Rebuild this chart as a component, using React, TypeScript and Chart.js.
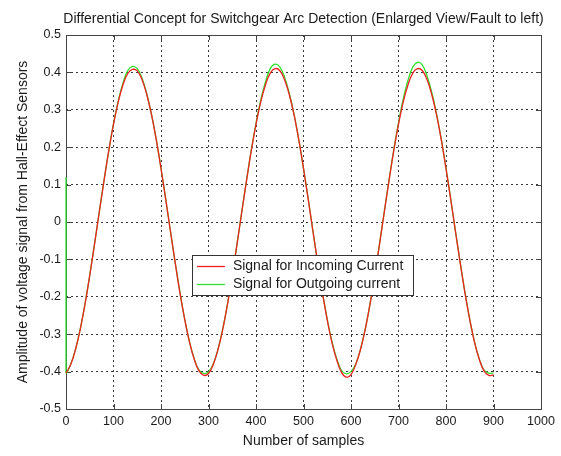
import React, { useEffect, useRef } from "react";
import { Chart, registerables } from "chart.js";

Chart.register(...registerables);

const TITLE = "Differential Concept for Switchgear Arc Detection (Enlarged View/Fault to left)";
const X_LABEL = "Number of samples";
const Y_LABEL = "Amplitude of voltage signal from Hall-Effect Sensors";
const SERIES_NAMES = ["Signal for Incoming Current", "Signal for Outgoing current"];
const SERIES_COLORS = ["#f02020", "#30e030"];

const X_TICKS = [0, 100, 200, 300, 400, 500, 600, 700, 800, 900, 1000];
const Y_TICKS = [-0.5, -0.4, -0.3, -0.2, -0.1, 0, 0.1, 0.2, 0.3, 0.4, 0.5];

const SAMPLES = [
  0, 10, 20, 30, 40, 50, 60, 70, 80, 90,
  100, 110, 120, 130, 140, 150, 160, 170, 180, 190,
  200, 210, 220, 230, 240, 250, 260, 270, 280, 290,
  300, 310, 320, 330, 340, 350, 360, 370, 380, 390,
  400, 410, 420, 430, 440, 450, 460, 470, 480, 490,
  500, 510, 520, 530, 540, 550, 560, 570, 580, 590,
  600, 610, 620, 630, 640, 650, 660, 670, 680, 690,
  700, 710, 720, 730, 740, 750, 760, 770, 780, 790,
  800, 810, 820, 830, 840, 850, 860, 870, 880, 890,
  900,
];

const INCOMING = [
  -0.404, -0.381, -0.341, -0.287, -0.22, -0.143, -0.06, 0.026, 0.11, 0.19,
  0.261, 0.321, 0.367, 0.397, 0.408, 0.404, 0.381, 0.341, 0.287, 0.22,
  0.143, 0.06, -0.026, -0.11, -0.19, -0.261, -0.321, -0.367, -0.398, -0.41,
  -0.405, -0.381, -0.341, -0.287, -0.22, -0.143, -0.06, 0.026, 0.11, 0.19,
  0.261, 0.321, 0.367, 0.398, 0.41, 0.405, 0.381, 0.341, 0.287, 0.22,
  0.143, 0.06, -0.026, -0.11, -0.19, -0.262, -0.323, -0.369, -0.402, -0.415,
  -0.408, -0.381, -0.341, -0.287, -0.22, -0.143, -0.06, 0.026, 0.11, 0.19,
  0.261, 0.321, 0.367, 0.398, 0.41, 0.405, 0.381, 0.341, 0.287, 0.22,
  0.143, 0.06, -0.026, -0.11, -0.19, -0.261, -0.321, -0.367, -0.398, -0.41,
  -0.409,
];

const OUTGOING_START = 0.12;

const OUTGOING = [
  -0.402, -0.38, -0.34, -0.286, -0.219, -0.142, -0.059, 0.027, 0.111, 0.191,
  0.263, 0.324, 0.372, 0.405, 0.416, 0.41, 0.385, 0.343, 0.288, 0.221,
  0.144, 0.061, -0.025, -0.109, -0.189, -0.26, -0.32, -0.366, -0.396, -0.405,
  -0.401, -0.38, -0.34, -0.286, -0.219, -0.142, -0.059, 0.027, 0.111, 0.192,
  0.264, 0.326, 0.375, 0.41, 0.422, 0.415, 0.388, 0.345, 0.289, 0.221,
  0.144, 0.061, -0.025, -0.109, -0.189, -0.26, -0.32, -0.366, -0.397, -0.406,
  -0.4, -0.38, -0.34, -0.286, -0.219, -0.142, -0.059, 0.027, 0.112, 0.193,
  0.266, 0.329, 0.379, 0.414, 0.427, 0.42, 0.391, 0.347, 0.29, 0.222,
  0.144, 0.061, -0.025, -0.109, -0.189, -0.26, -0.32, -0.366, -0.396, -0.404,
  -0.404,
];

const FONT = "'Liberation Sans', Arial, sans-serif";
const TEXT_COLOR = "#1a1a1a";

const fmt = (v: number) => {
  const r = Math.round(v * 10) / 10;
  return Object.is(r, -0) ? "0" : String(r);
};

const framePlugin = {
  id: "matlabFrame",
  beforeDatasetsDraw(chart: any) {
    const { ctx, chartArea } = chart;
    const { left, right, top, bottom } = chartArea;
    const xs = chart.scales.x;
    const ys = chart.scales.y;
    ctx.save();
    ctx.strokeStyle = "#444";
    ctx.lineWidth = 1;
    ctx.setLineDash([]);
    ctx.strokeRect(Math.round(left) + 0.5, Math.round(top) + 0.5, Math.round(right - left), Math.round(bottom - top));
    const tl = 5;
    ctx.beginPath();
    X_TICKS.forEach((v) => {
      const px = Math.round(xs.getPixelForValue(v)) + 0.5;
      ctx.moveTo(px, bottom);
      ctx.lineTo(px, bottom - tl);
      ctx.moveTo(px, top);
      ctx.lineTo(px, top + tl);
    });
    Y_TICKS.forEach((v) => {
      const py = Math.round(ys.getPixelForValue(v)) + 0.5;
      ctx.moveTo(left, py);
      ctx.lineTo(left + tl, py);
      ctx.moveTo(right, py);
      ctx.lineTo(right - tl, py);
    });
    ctx.stroke();
    ctx.restore();
  },
  afterDatasetsDraw(chart: any) {
    const { ctx, chartArea } = chart;
    const { left, right } = chartArea;
    const xs = chart.scales.x;
    const ys = chart.scales.y;
    ctx.save();
    // legend
    const lx = xs.getPixelForValue(265);
    const ly = ys.getPixelForValue(-0.089);
    const lw = 221;
    const lh = 40;
    ctx.fillStyle = "#ffffff";
    ctx.fillRect(lx, ly, lw, lh);
    ctx.strokeStyle = "#333";
    ctx.lineWidth = 1;
    ctx.strokeRect(Math.round(lx) + 0.5, Math.round(ly) + 0.5, lw, lh);
    ctx.font = `14px ${FONT}`;
    ctx.textBaseline = "middle";
    ctx.textAlign = "left";
    SERIES_NAMES.forEach((name, i) => {
      const cy = Math.round(ly + 11 + i * 18) + 0.5;
      ctx.strokeStyle = SERIES_COLORS[i];
      ctx.lineWidth = 1.3;
      ctx.beginPath();
      ctx.moveTo(lx + 5, cy);
      ctx.lineTo(lx + 33, cy);
      ctx.stroke();
      ctx.fillStyle = TEXT_COLOR;
      ctx.fillText(name, lx + 41, cy);
    });

    // title
    ctx.font = `14px ${FONT}`;
    ctx.textAlign = "center";
    ctx.textBaseline = "middle";
    ctx.fillStyle = TEXT_COLOR;
    ctx.fillText(TITLE, (left + right) / 2, 19);
    ctx.restore();
  },
};

export default function App() {
  const canvasRef = useRef<HTMLCanvasElement | null>(null);

  useEffect(() => {
    const canvas = canvasRef.current;
    if (!canvas) return;
    const incoming = SAMPLES.map((x, i) => ({ x, y: INCOMING[i] }));
    const outgoing = [{ x: SAMPLES[0], y: OUTGOING_START }].concat(
      SAMPLES.map((x, i) => ({ x, y: OUTGOING[i] }))
    );
    const gridCfg = {
      color: "#3a3a3a",
      lineWidth: 1,
      drawTicks: false,
      tickLength: 0,
    };
    const chart = new Chart(canvas, {
      type: "line",
      data: {
        datasets: [
          {
            label: SERIES_NAMES[0],
            data: incoming,
            borderColor: SERIES_COLORS[0],
            backgroundColor: SERIES_COLORS[0],
            borderWidth: 1.3,
            pointRadius: 0,
            tension: 0.4,
            fill: false,
            clip: { left: 2, top: 2, right: 2, bottom: 2 },
          },
          {
            label: SERIES_NAMES[1],
            data: outgoing,
            borderColor: SERIES_COLORS[1],
            backgroundColor: SERIES_COLORS[1],
            borderWidth: 1.3,
            pointRadius: 0,
            tension: 0.4,
            fill: false,
            clip: { left: 2, top: 2, right: 2, bottom: 2 },
          },
        ],
      },
      options: {
        animation: false,
        responsive: false,
        maintainAspectRatio: false,
        parsing: false,
        layout: { padding: { top: 35, right: 20, left: 0, bottom: 0 } },
        plugins: {
          legend: { display: false },
          title: { display: false },
          tooltip: { enabled: false },
        },
        scales: {
          x: {
            type: "linear",
            min: 0,
            max: 1000,
            afterBuildTicks: (s: any) => {
              s.ticks = X_TICKS.map((v) => ({ value: v }));
            },
            afterFit: (s: any) => {
              s.height = 47;
            },
            ticks: {
              callback: (v: any) => String(v),
              font: { family: FONT, size: 12.5 },
              color: TEXT_COLOR,
              padding: 5,
              maxRotation: 0,
              autoSkip: false,
            },
            grid: { ...gridCfg },
            border: { display: false, dash: [2, 3] },
            title: {
              display: true,
              text: X_LABEL,
              font: { family: FONT, size: 14 },
              color: TEXT_COLOR,
              padding: { top: 0, bottom: 6 },
            },
          },
          y: {
            type: "linear",
            min: -0.5,
            max: 0.5,
            afterBuildTicks: (s: any) => {
              s.ticks = Y_TICKS.map((v) => ({ value: v }));
            },
            afterFit: (s: any) => {
              s.width = 66;
            },
            ticks: {
              callback: (v: any) => fmt(Number(v)),
              font: { family: FONT, size: 12.5 },
              color: TEXT_COLOR,
              padding: 5,
              autoSkip: false,
            },
            grid: { ...gridCfg },
            border: { display: false, dash: [2, 3] },
            title: {
              display: true,
              text: Y_LABEL,
              font: { family: FONT, size: 14 },
              color: TEXT_COLOR,
              padding: { top: 15, bottom: 0 },
            },
          },
        },
      },
      plugins: [framePlugin],
    });
    return () => chart.destroy();
  }, []);

  return (
    <div style={{ position: "fixed", left: 0, top: 0, width: 561, height: 456, background: "#fff" }}>
      <canvas ref={canvasRef} width={561} height={456} style={{ width: 561, height: 456, display: "block" }} />
    </div>
  );
}
